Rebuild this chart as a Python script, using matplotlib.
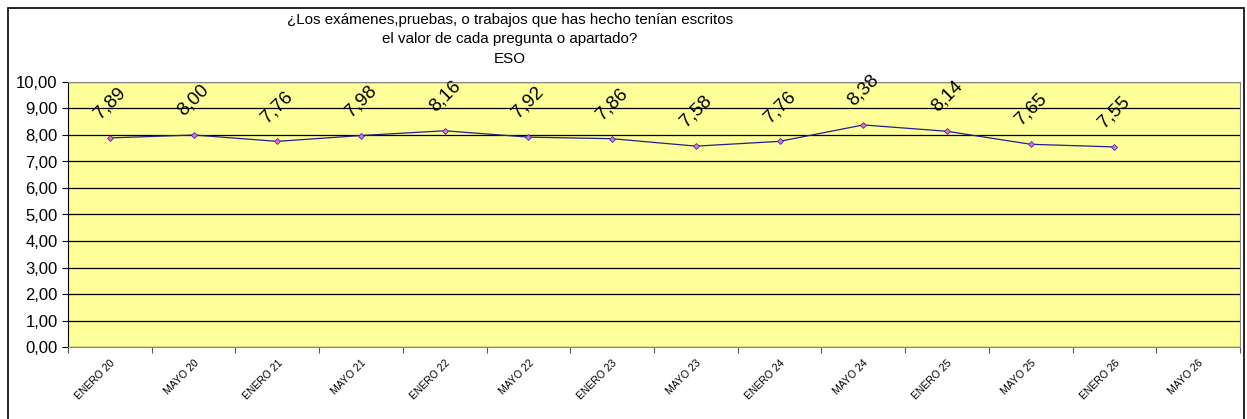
import matplotlib
matplotlib.use("Agg")
import matplotlib.pyplot as plt
import matplotlib.patches as patches
import numpy as np

plt.rcParams['font.family'] = ['Liberation Sans', 'DejaVu Sans']

periodos = ['ENERO 20', 'MAYO 20', 'ENERO 21', 'MAYO 21', 'ENERO 22', 'MAYO 22',
            'ENERO 23', 'MAYO 23', 'ENERO 24', 'MAYO 24', 'ENERO 25', 'MAYO 25',
            'ENERO 26', 'MAYO 26']
valores = [7.89, 8.00, 7.76, 7.98, 8.16, 7.92, 7.86, 7.58, 7.76, 8.38, 8.14, 7.65, 7.55]
titulo = ('¿Los exámenes,pruebas, o trabajos que has hecho tenían escritos\n'
          'el valor de cada pregunta o apartado?\nESO')

fig = plt.figure(figsize=(12.47, 4.19), dpi=100)
fig.patch.set_facecolor('white')

# marco del grafico
marco = patches.Rectangle((8 / 1247, -0.02), 1236 / 1247, (419 - 8) / 419 + 0.02,
                          transform=fig.transFigure, fill=False,
                          edgecolor='black', linewidth=1.2)
fig.patches.append(marco)

ax = fig.add_axes([68 / 1247, 72 / 419, 1172 / 1247, 265 / 419])
ax.set_facecolor('#FFFF99')

x = np.arange(len(valores))
ax.plot(x, valores, color='#1F1F8F', linewidth=0.9, marker='D', markersize=3,
        markerfacecolor='#FF66CC', markeredgecolor='#3333AA', markeredgewidth=0.6, zorder=3)

for xi, v in zip(x, valores):
    ax.annotate(f'{v:.2f}'.replace('.', ','), (xi, v), xytext=(0, 25),
                textcoords='offset points', ha='center', va='center',
                rotation=45, fontsize=13.5, color='black')

ax.set_xlim(-0.5, len(periodos) - 0.5)
ax.set_ylim(0, 10)
ax.set_yticks(np.arange(0, 11, 1))
ax.set_yticklabels([f'{v:.2f}'.replace('.', ',') for v in np.arange(0, 11, 1)], fontsize=12)
ax.yaxis.grid(True, color='black', linewidth=0.9)
ax.set_axisbelow(True)

# marcas entre categorias, etiquetas en el centro
ax.set_xticks(np.arange(len(periodos) + 1) - 0.5)
ax.set_xticklabels([])
ax.set_xticks(np.arange(len(periodos)), minor=True)
ax.set_xticklabels(periodos, minor=True, rotation=45, ha='right', va='top',
                   rotation_mode='anchor', fontsize=7.5,
                   family=['Liberation Sans Narrow', 'Liberation Sans'])
ax.tick_params(axis='x', which='minor', length=0, pad=8)
ax.tick_params(axis='x', which='major', length=4, color='#555555')
ax.tick_params(axis='y', length=4)

for s in ['top', 'right']:
    ax.spines[s].set_color('#888888')
ax.spines['left'].set_color('black')
ax.spines['bottom'].set_color('#888888')

fig.text(510 / 1247, 1 - 13 / 419, titulo, ha='center', va='top', fontsize=10.9,
         linespacing=1.5)

fig.savefig('out.png', dpi=100)
